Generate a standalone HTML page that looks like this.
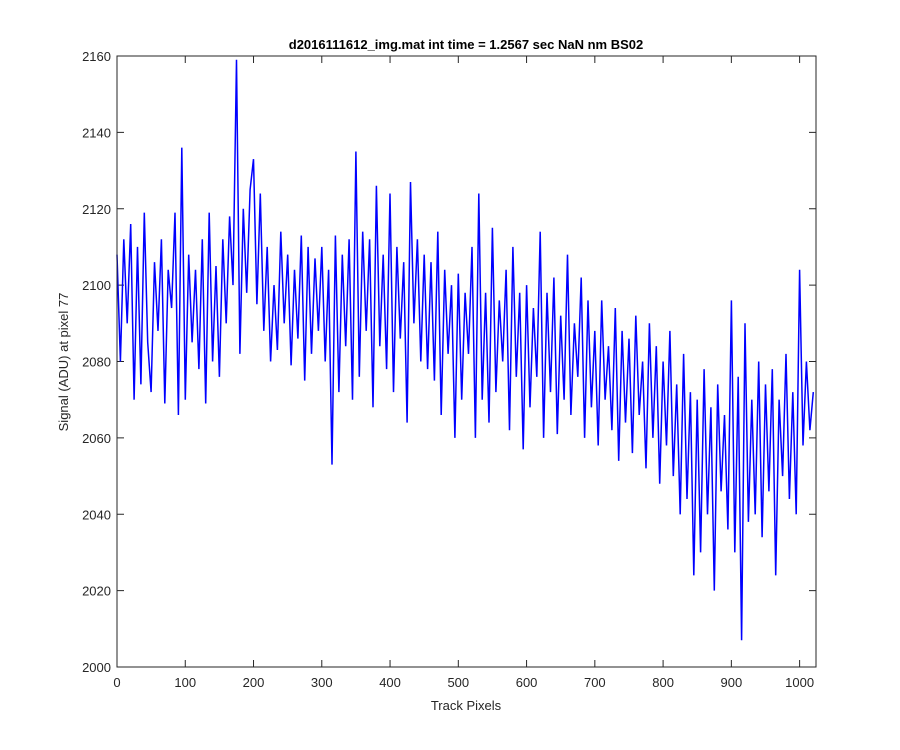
<!DOCTYPE html>
<html><head><meta charset="utf-8"><style>
body{margin:0;background:#fff;}
svg{display:block;font-family:"Liberation Sans",Arial,sans-serif;}
</style></head><body>
<svg id="chart" width="900" height="750">
<rect x="0" y="0" width="900" height="750" fill="#fff"/>
<rect x="117" y="56" width="699" height="611" fill="#fff"/>
<g id="ticks"></g>
<polyline id="series" fill="none" stroke="#0000ff" stroke-width="1.5"/>
<rect x="117" y="56" width="699" height="611" fill="none" stroke="#262626" stroke-width="1"/>
<text x="466" y="49" text-anchor="middle" font-size="13" font-weight="bold" fill="#000">d2016111612_img.mat int time = 1.2567 sec  NaN nm BS02</text>
<text x="466" y="710" text-anchor="middle" font-size="13" fill="#262626">Track Pixels</text>
<text x="0" y="0" transform="translate(68,362) rotate(-90)" text-anchor="middle" font-size="13" fill="#262626">Signal (ADU) at pixel 77</text>
</svg>
<script>
const xStep = 5;
const signalValues = [
2108,2080,2112,2090,2116,2070,2110,2074,2119,2085,
2072,2106,2088,2112,2069,2104,2094,2119,2066,2136,
2070,2108,2085,2104,2078,2112,2069,2119,2080,2105,
2076,2112,2090,2118,2100,2159,2082,2120,2098,2125,
2133,2095,2124,2088,2110,2080,2100,2083,2114,2090,
2108,2079,2104,2086,2113,2075,2110,2082,2107,2088,
2110,2080,2104,2053,2113,2072,2108,2084,2112,2070,
2135,2076,2114,2088,2112,2068,2126,2084,2108,2078,
2124,2072,2110,2086,2106,2064,2127,2090,2112,2080,
2108,2078,2106,2075,2114,2066,2104,2082,2100,2060,
2103,2070,2098,2082,2110,2060,2124,2070,2098,2064,
2115,2072,2096,2080,2104,2062,2110,2076,2098,2057,
2100,2068,2094,2076,2114,2060,2098,2072,2102,2061,
2092,2070,2108,2066,2090,2076,2102,2060,2096,2068,
2088,2058,2096,2070,2084,2062,2094,2054,2088,2064,
2086,2056,2092,2066,2080,2052,2090,2060,2084,2048,
2080,2058,2088,2050,2074,2040,2082,2044,2072,2024,
2070,2030,2078,2040,2068,2020,2074,2046,2066,2036,
2096,2030,2076,2007,2090,2038,2070,2040,2080,2034,
2074,2046,2078,2024,2070,2050,2082,2044,2072,2040,
2104,2058,2080,2062,2072];
const xTicks = [0,100,200,300,400,500,600,700,800,900,1000];
const yTicks = [2000,2020,2040,2060,2080,2100,2120,2140,2160];
const X0=117,X1=816,Y0=667,Y1=56;
const xScale = v => X0 + v/1024*(X1-X0);
const yScale = v => Y0 - (v-2000)/160*(Y0-Y1);
const NS="http://www.w3.org/2000/svg";
const line=document.getElementById('series');
line.setAttribute('points', signalValues.map((v,i)=>xScale(i*xStep).toFixed(1)+','+yScale(v).toFixed(1)).join(' '));
const g=document.getElementById('ticks');
function mk(tag,attrs,txt){const e=document.createElementNS(NS,tag);for(const k in attrs)e.setAttribute(k,attrs[k]);if(txt!==undefined)e.textContent=txt;g.appendChild(e);return e;}
xTicks.forEach(t=>{const x=xScale(t);
 mk('line',{x1:x,x2:x,y1:Y0,y2:Y0-7,stroke:'#262626'});
 mk('line',{x1:x,x2:x,y1:Y1,y2:Y1+7,stroke:'#262626'});
 const l=mk('text',{x:x,y:Y0+20,'text-anchor':'middle','font-size':13,fill:'#262626'},t);
 
 
});
yTicks.forEach(t=>{const y=yScale(t);
 mk('line',{x1:X0,x2:X0+7,y1:y,y2:y,stroke:'#262626'});
 mk('line',{x1:X1,x2:X1-7,y1:y,y2:y,stroke:'#262626'});
 const l=mk('text',{x:X0-6,y:y+5,'text-anchor':'end','font-size':13,fill:'#262626'},t);
 
 
});
</script>
</body></html>
